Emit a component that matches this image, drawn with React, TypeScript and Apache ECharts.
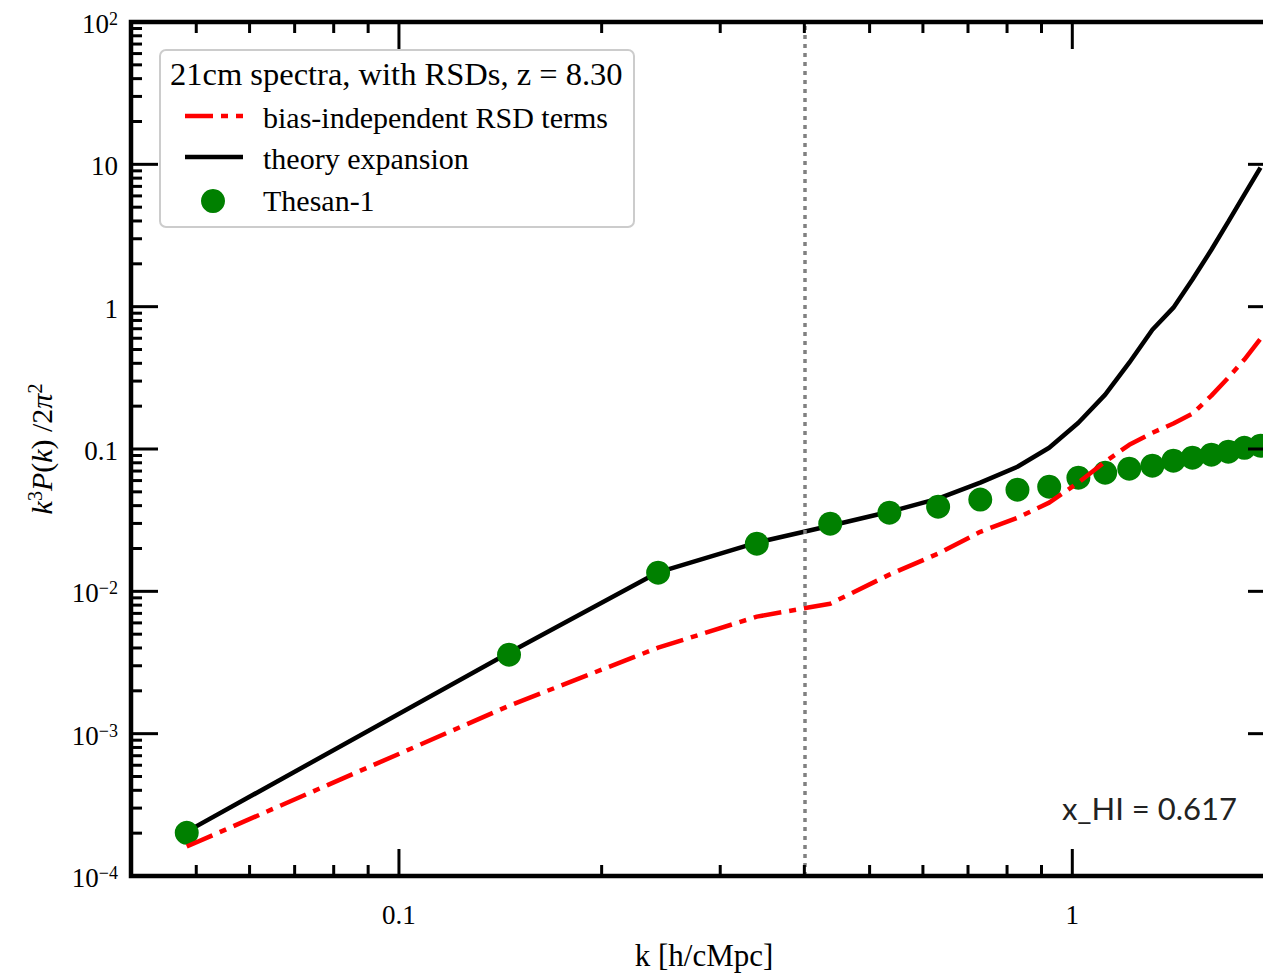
import React, { useEffect, useRef } from "react";
import * as echarts from "echarts";

// ---- data ----
const kBins = [0.0484, 0.1457, 0.2426, 0.34, 0.437, 0.535, 0.632, 0.73, 0.829, 0.924, 1.021, 1.119, 1.215, 1.315, 1.413, 1.508, 1.609, 1.705, 1.801, 1.903];
const thesan1 = [2.01e-4, 3.59e-3, 0.01352, 0.0216, 0.0299, 0.0357, 0.0393, 0.0441, 0.0518, 0.0544, 0.0629, 0.0682, 0.0727, 0.0763, 0.0828, 0.0869, 0.0912, 0.0958, 0.102, 0.1055];
const theoryExpansion = [2.05e-4, 3.7e-3, 0.0136, 0.022, 0.0289, 0.0362, 0.0448, 0.058, 0.0751, 0.102, 0.153, 0.241, 0.404, 0.689, 0.984, 1.55, 2.51, 3.96, 6.12, 9.48];
const biasIndependentRSD = [1.61e-4, 1.57e-3, 4.02e-3, 6.64e-3, 8.19e-3, 0.0131, 0.0184, 0.0262, 0.0329, 0.042, 0.058, 0.0815, 0.107, 0.13, 0.151, 0.177, 0.237, 0.317, 0.425, 0.596];
const kCut = 0.4;
const xHI = "0.617";

// ---- axes ----
const xMin = 0.04;
const xMax = 2;
const yMin = 1e-4;
const yMax = 100;
const xMajorTicks = [0.1, 1];
const xTickLabels = ["0.1", "1"];
const xMinorTicks = [0.05, 0.06, 0.07, 0.08, 0.09, 0.2, 0.3, 0.4, 0.5, 0.6, 0.7, 0.8, 0.9];
const yMajorTicks = [1e-4, 1e-3, 1e-2, 0.1, 1, 10, 100];
const yTickBase = ["10", "10", "10", "0.1", "1", "10", "10"];
const yTickSup = ["−4", "−3", "−2", "", "", "", "2"];
const yDecades = [1e-4, 1e-3, 1e-2, 0.1, 1, 10];
const yMinorMultipliers = [2, 3, 4, 5, 6, 7, 8, 9];

const SERIF = "Liberation Serif";
const TICK_FONT = 27;
const DASH_DOT = [28, 8, 7, 8];

export default function App() {
  const ref = useRef<HTMLDivElement>(null);
  useEffect(() => {
    if (!ref.current) return;
    const chart = echarts.init(ref.current, null, { renderer: "svg" });

    const yMinorTicks: number[] = [];
    yDecades.forEach((d) => yMinorMultipliers.forEach((m) => yMinorTicks.push(d * m)));

    const renderFrame = (params: any, api: any) => {
      const cs = params.coordSys;
      const left = cs.x;
      const top = cs.y;
      const right = cs.x + cs.width;
      const bottom = cs.y + cs.height;
      const children: any[] = [];
      const line = (x1: number, y1: number, x2: number, y2: number) =>
        children.push({
          type: "line",
          shape: { x1, y1, x2, y2 },
          style: { stroke: "#000", lineWidth: 3 },
        });
      const xTick = (v: number, len: number) => {
        const x = api.coord([v, 1])[0];
        line(x, bottom, x, bottom - len);
        line(x, top, x, top + len);
      };
      const yTick = (v: number, len: number) => {
        const y = api.coord([1, v])[1];
        line(left, y, left + len, y);
        line(right, y, right - len, y);
      };
      xMinorTicks.forEach((v) => xTick(v, 11));
      xMajorTicks.forEach((v) => xTick(v, 27));
      yMinorTicks.forEach((v) => yTick(v, 11));
      yMajorTicks.forEach((v) => yTick(v, 27));
      children.push({
        type: "rect",
        shape: { x: left, y: top, width: cs.width, height: cs.height },
        style: { fill: "none", stroke: "#000", lineWidth: 4.5 },
      });
      xMajorTicks.forEach((v, i) => {
        const x = api.coord([v, 1])[0];
        children.push({
          type: "text",
          style: {
            text: xTickLabels[i],
            x,
            y: bottom + 39,
            align: "center",
            verticalAlign: "middle",
            fill: "#000",
            fontFamily: SERIF,
            fontSize: TICK_FONT,
          },
        });
      });
      yMajorTicks.forEach((v, i) => {
        const y = api.coord([1, v])[1];
        const sup = yTickSup[i];
        children.push({
          type: "text",
          style: {
            text: sup ? `{b|${yTickBase[i]}}{s|${sup}}` : `{b|${yTickBase[i]}}`,
            x: left - 13,
            y: y + 2,
            align: "right",
            verticalAlign: "middle",
            fill: "#000",
            fontFamily: SERIF,
            fontSize: TICK_FONT,
            rich: {
              b: { fontFamily: SERIF, fontSize: TICK_FONT, fill: "#000", lineHeight: 28 },
              s: { fontFamily: SERIF, fontSize: 18, fill: "#000", lineHeight: 18, verticalAlign: "top" },
            },
          },
        });
      });
      children.push({
        type: "text",
        style: {
          text: "k [h/cMpc]",
          x: 704,
          y: bottom + 79,
          align: "center",
          verticalAlign: "middle",
          fill: "#000",
          fontFamily: SERIF,
          fontSize: 31,
        },
      });
      return { type: "group", children };
    };

    const legendFont = 30;
    const option: any = {
      animation: false,
      backgroundColor: "#fff",
      grid: { left: 131, top: 22, width: 1144, height: 854, containLabel: false },
      xAxis: {
        type: "log",
        logBase: 10,
        min: xMin,
        max: xMax,
        axisLine: { show: false },
        axisTick: { show: false },
        axisLabel: { show: false },
        splitLine: { show: false },
        minorTick: { show: false },
      },
      yAxis: {
        type: "log",
        logBase: 10,
        min: yMin,
        max: yMax,
        axisLine: { show: false },
        axisTick: { show: false },
        axisLabel: { show: false },
        splitLine: { show: false },
        minorTick: { show: false },
      },
      series: [
        {
          name: "theory expansion",
          type: "line",
          data: kBins.map((k, i) => [k, theoryExpansion[i]]),
          showSymbol: false,
          symbol: "none",
          lineStyle: { color: "#000", width: 4.5 },
          z: 2,
          silent: true,
          markLine: {
            silent: true,
            symbol: ["none", "none"],
            label: { show: false },
            lineStyle: { color: "#808080", width: 3.5, type: [4, 5] },
            data: [{ xAxis: kCut }],
          },
        },
        {
          name: "Thesan-1",
          type: "scatter",
          data: kBins.map((k, i) => [k, thesan1[i]]),
          symbol: "circle",
          symbolSize: 24,
          itemStyle: { color: "#008000", opacity: 1 },
          z: 3,
          silent: true,
        },
        {
          name: "bias-independent RSD terms",
          type: "line",
          data: kBins.map((k, i) => [k, biasIndependentRSD[i]]),
          showSymbol: false,
          symbol: "none",
          lineStyle: { color: "#ff0000", width: 4.5, type: DASH_DOT },
          z: 4,
          silent: true,
        },
        {
          type: "custom",
          data: [[1, 1]],
          renderItem: renderFrame,
          clip: false,
          silent: true,
          z: 10,
        },
      ],
      graphic: [
        {
          type: "rect",
          z: 100,
          shape: { x: 160, y: 50, width: 474, height: 177, r: 6 },
          style: { fill: "rgba(255,255,255,0.8)", stroke: "#cccccc", lineWidth: 2 },
        },
        {
          type: "text",
          z: 101,
          style: {
            text: "21cm spectra, with RSDs, z = 8.30",
            x: 170,
            y: 74,
            align: "left",
            verticalAlign: "middle",
            fill: "#000",
            fontFamily: SERIF,
            fontSize: 32.5,
          },
        },
        {
          type: "line",
          z: 101,
          shape: { x1: 185, y1: 116, x2: 243, y2: 116 },
          style: { stroke: "#ff0000", lineWidth: 4.5, lineDash: DASH_DOT },
        },
        {
          type: "text",
          z: 101,
          style: {
            text: "bias-independent RSD terms",
            x: 263,
            y: 117,
            align: "left",
            verticalAlign: "middle",
            fill: "#000",
            fontFamily: SERIF,
            fontSize: legendFont,
          },
        },
        {
          type: "line",
          z: 101,
          shape: { x1: 185, y1: 157, x2: 243, y2: 157 },
          style: { stroke: "#000", lineWidth: 4.5 },
        },
        {
          type: "text",
          z: 101,
          style: {
            text: "theory expansion",
            x: 263,
            y: 158,
            align: "left",
            verticalAlign: "middle",
            fill: "#000",
            fontFamily: SERIF,
            fontSize: legendFont,
          },
        },
        {
          type: "circle",
          z: 101,
          shape: { cx: 213, cy: 201, r: 12 },
          style: { fill: "#008000" },
        },
        {
          type: "text",
          z: 101,
          style: {
            text: "Thesan-1",
            x: 263,
            y: 200,
            align: "left",
            verticalAlign: "middle",
            fill: "#000",
            fontFamily: SERIF,
            fontSize: legendFont,
          },
        },
        {
          type: "text",
          z: 101,
          style: {
            text: "x_HI = " + xHI,
            x: 1237,
            y: 808,
            align: "right",
            verticalAlign: "middle",
            fill: "#222",
            fontFamily: "Lato",
            fontSize: 31,
          },
        },
        {
          type: "text",
          z: 101,
          x: 41,
          y: 449,
          rotation: Math.PI / 2,
          style: {
            text: "{i|k}{s|3}{i|P}{r|(}{i|k}{r|)}{r| /2}{i|π}{s|2}",
            x: 0,
            y: 0,
            align: "center",
            verticalAlign: "middle",
            fill: "#000",
            fontFamily: SERIF,
            fontSize: 30,
            rich: {
              i: { fontFamily: SERIF, fontSize: 30, fontStyle: "italic", fill: "#000", lineHeight: 32 },
              r: { fontFamily: SERIF, fontSize: 30, fill: "#000", lineHeight: 32 },
              s: { fontFamily: SERIF, fontSize: 20, fill: "#000", lineHeight: 20, verticalAlign: "top" },
            },
          },
        },
      ],
    };
    chart.setOption(option);
    return () => chart.dispose();
  }, []);
  return (
    <div
      style={{ position: "absolute", left: 0, top: 0, width: 1263, height: 974, overflow: "hidden", background: "#fff" }}
    >
      <div ref={ref} style={{ width: 1300, height: 974 }} />
    </div>
  );
}
